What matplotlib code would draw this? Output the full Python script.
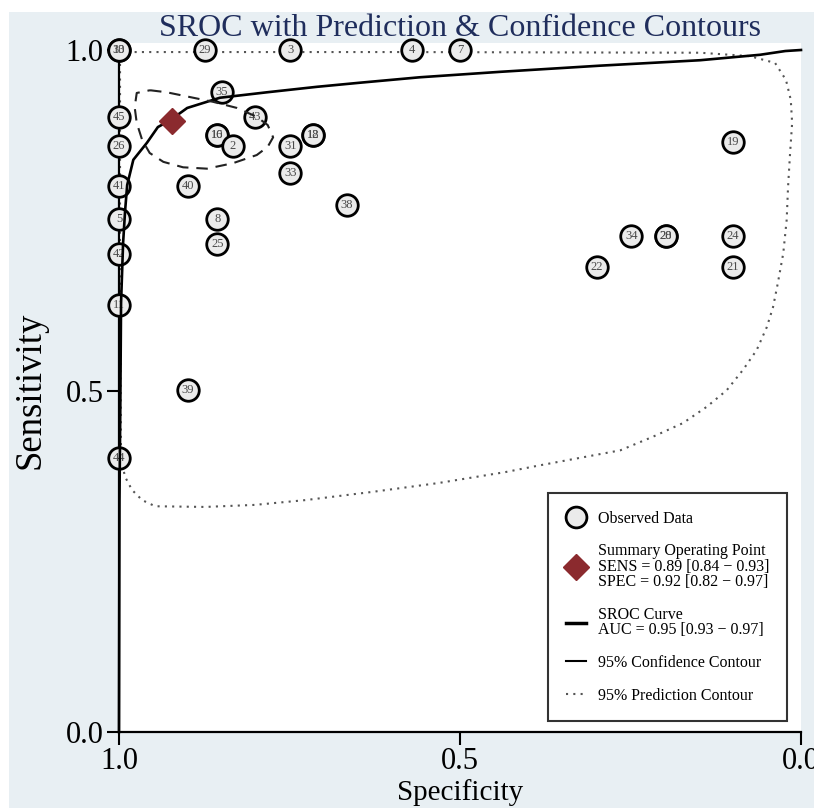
import matplotlib
matplotlib.use("Agg")
import matplotlib.pyplot as plt
from matplotlib.lines import Line2D
from matplotlib.patches import Rectangle

plt.rcParams['font.family'] = ['Liberation Serif', 'DejaVu Serif']

# ---- observed studies (specificity, sensitivity) ----
study_labels = ["13", "30", "29", "3", "4", "7", "35", "45", "43", "16", "10", "2",
                "18", "12", "31", "26", "33", "41", "40", "38", "5", "8", "25",
                "42", "11", "39", "44", "19", "34", "28", "20", "24", "22", "21"]
study_spec = [1.0, 1.0, 0.874, 0.749, 0.570, 0.500, 0.849, 1.0, 0.801, 0.856, 0.856, 0.833,
              0.716, 0.716, 0.749, 1.0, 0.749, 1.0, 0.899, 0.666, 1.0, 0.856, 0.856,
              1.0, 1.0, 0.899, 1.0, 0.100, 0.249, 0.198, 0.198, 0.100, 0.299, 0.100]
study_sens = [1.0, 1.0, 1.0, 1.0, 1.0, 1.0, 0.938, 0.902, 0.902, 0.875, 0.875, 0.859,
              0.875, 0.875, 0.859, 0.859, 0.820, 0.801, 0.801, 0.773, 0.752, 0.752, 0.716,
              0.701, 0.626, 0.501, 0.402, 0.865, 0.727, 0.727, 0.727, 0.727, 0.682, 0.682]

# ---- summary operating point ----
summary_spec = 0.922
summary_sens = 0.896

sroc_spec = [1.0, 0.9993, 0.998, 0.997, 0.994, 0.991, 0.988, 0.979, 0.959, 0.943,
             0.925, 0.900, 0.852, 0.783, 0.710, 0.647, 0.559, 0.441, 0.295, 0.148,
             0.060, 0.023, 0.0]
sroc_sens = [0.0, 0.340, 0.487, 0.629, 0.717, 0.765, 0.802, 0.839, 0.864, 0.887,
             0.897, 0.915, 0.930, 0.938, 0.946, 0.952, 0.960, 0.968, 0.977, 0.985,
             0.993, 0.9985, 1.0]

conf_spec = [0.9545, 0.930, 0.896, 0.862, 0.827, 0.798, 0.782, 0.774, 0.782, 0.798,
             0.833, 0.871, 0.906, 0.935, 0.955, 0.966, 0.974, 0.977, 0.974, 0.9545]
conf_sens = [0.941, 0.938, 0.931, 0.924, 0.915, 0.902, 0.890, 0.872, 0.858, 0.846,
             0.834, 0.826, 0.828, 0.836, 0.849, 0.868, 0.893, 0.916, 0.937, 0.941]

pred_spec = [0.9985, 0.588, 0.148, 0.075, 0.038, 0.022, 0.015, 0.013, 0.016, 0.019,
             0.021, 0.026, 0.034, 0.041, 0.050, 0.065, 0.085, 0.109, 0.138, 0.173,
             0.217, 0.265, 0.324, 0.383, 0.434, 0.532, 0.629, 0.727, 0.801, 0.874,
             0.947, 0.966, 0.981, 0.991, 0.997, 0.9985, 0.9985]
pred_sens = [0.997, 0.997, 0.996, 0.991, 0.981, 0.956, 0.927, 0.893, 0.849, 0.799,
             0.751, 0.702, 0.658, 0.623, 0.594, 0.560, 0.531, 0.501, 0.477, 0.453,
             0.433, 0.413, 0.402, 0.391, 0.381, 0.365, 0.352, 0.340, 0.333, 0.330,
             0.331, 0.340, 0.355, 0.374, 0.399, 0.633, 0.997]

legend_labels = ["Observed Data",
                 "Summary Operating Point\nSENS = 0.89 [0.84 \u2212 0.93]\nSPEC = 0.92 [0.82 \u2212 0.97]",
                 "SROC Curve\nAUC = 0.95 [0.93 \u2212 0.97]",
                 "95% Confidence Contour",
                 "95% Prediction Contour"]

W, H = 814, 808
fig = plt.figure(figsize=(W / 100, H / 100), dpi=100)
fig.patch.set_facecolor('white')
fig.patches.append(Rectangle((9 / W, 0), 1, 1 - 12 / H, transform=fig.transFigure,
                             facecolor='#e8eff3', edgecolor='none', zorder=-10))

ax = fig.add_axes([119 / W, 76 / H, 682 / W, 689 / H])
ax.set_facecolor('white')
ax.set_xlim(1.0, 0.0)
ax.set_ylim(0.0, 689 / 682)

for s in ['top', 'right']:
    ax.spines[s].set_visible(False)
for s in ['left', 'bottom']:
    ax.spines[s].set_linewidth(1.6)

ax.set_xticks([1.0, 0.5, 0.0])
ax.set_xticklabels(['1.0', '0.5', '0.0'])
ax.set_yticks([0.0, 0.5, 1.0])
ax.set_yticklabels(['0.0', '0.5', '1.0'])
ax.tick_params(axis='both', length=9, width=1.5, labelsize=22, pad=2, colors='black')

# prediction contour
ax.plot(pred_spec, pred_sens, color='#555555', lw=1.5, ls=(0, (1, 2.5)),
        zorder=2, clip_on=False)

# observed data
ax.plot(study_spec, study_sens, ls='none', marker='o', ms=15.5, mfc='#ebebeb',
        mec='black', mew=2.0, zorder=3, clip_on=False)
for lab, x, y in zip(study_labels, study_spec, study_sens):
    ax.text(x, y, lab, ha='center', va='center', fontsize=9, color='#4a4a4a',
            zorder=4, clip_on=False)

# SROC curve
ax.plot(sroc_spec, sroc_sens, color='black', lw=1.9, zorder=5, clip_on=False)
# confidence contour
ax.plot(conf_spec, conf_sens, color='#222222', lw=1.5, ls=(0, (5.5, 3.8)), zorder=5)
# summary point
ax.plot([summary_spec], [summary_sens], ls='none', marker='D', ms=13,
        color='#8b2a2e', zorder=6)

ax.set_title('SROC with Prediction & Confidence Contours', fontsize=23,
             color='#1f2d5c', pad=4)
ax.set_xlabel('Specificity', fontsize=21)
ax.set_ylabel('Sensitivity', fontsize=26.5)
ax.xaxis.label.set_va('center')
ax.xaxis.set_label_coords(0.5, (732 - 793) / 689)
ax.yaxis.label.set_va('center')
ax.yaxis.set_label_coords((30 - 119) / 682, (732 - 390) / 689)

handles = [
    Line2D([], [], ls='none', marker='o', ms=15, mfc='#ebebeb', mec='black', mew=2),
    Line2D([], [], ls='none', marker='D', ms=13, color='#8b2a2e'),
    Line2D([], [], color='black', lw=2.5),
    Line2D([], [], color='black', lw=1.5),
    Line2D([], [], color='#555555', lw=1.5, ls=(0, (1, 2.5))),
]
leg = ax.legend(handles, legend_labels, loc='upper left',
                bbox_to_anchor=((548 - 119) / 682, (732 - 493) / 689),
                borderaxespad=0, frameon=True, fancybox=False, fontsize=11.5,
                handlelength=1.3, handletextpad=0.7, labelspacing=1.05,
                borderpad=1.1)
for t in leg.get_texts():
    t.set_linespacing(0.95)
leg.get_frame().set_edgecolor('black')
leg.get_frame().set_linewidth(1.5)
leg.set_zorder(10)

fig.savefig('out.png', dpi=100)
